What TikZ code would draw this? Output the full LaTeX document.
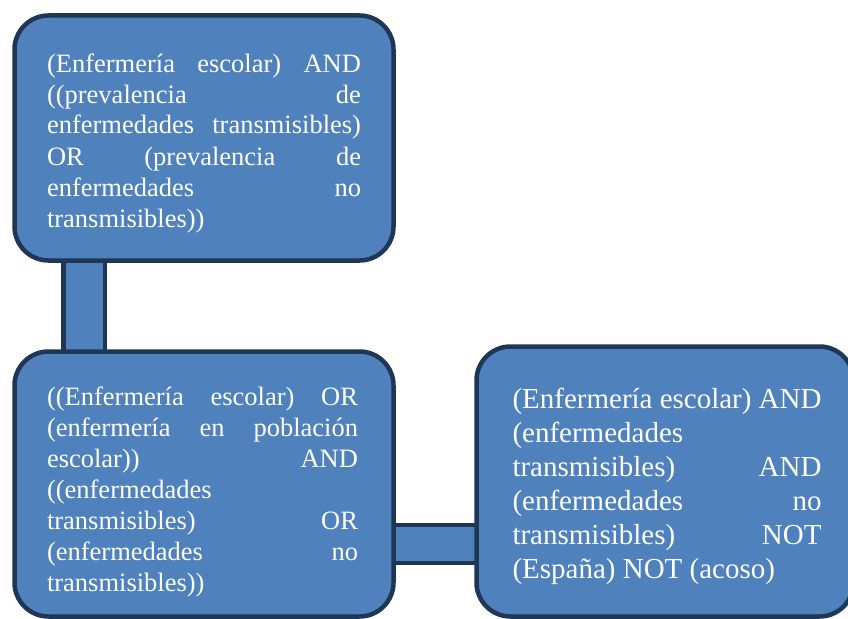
\documentclass[tikz,border=0pt]{standalone}
\usepackage{fontspec}
\setmainfont{Liberation Serif}
\usetikzlibrary{backgrounds}
\definecolor{boxfill}{HTML}{4F81BD}
\definecolor{boxline}{HTML}{1F3655}
\newcommand\jl[1]{\hbox to\hsize{#1}}
\tikzset{
  sabox/.style={draw=boxline, fill=boxfill, line width=4.5pt, rounded corners=34pt,
    rectangle, inner sep=0pt, outer sep=0pt, anchor=north west},
  satext/.style={text=white, inner sep=0pt, outer sep=0pt, anchor=base west},
  sabar/.style={draw=boxline, line width=4.5pt, double=boxfill},
}
\begin{document}
\begin{tikzpicture}[x=1pt,y=-1pt]
\useasboundingbox (0,0) rectangle (848,618);
\node[sabox, minimum width=379pt, minimum height=245pt] (b1) at (14.5,15.5) {};
\node[sabox, minimum width=379pt, minimum height=265pt] (b2) at (14.5,351.5) {};
\node[sabox, minimum width=377pt, minimum height=270pt] (b3) at (476.5,346.5) {};
\coordinate (vbar) at (84,0);
\coordinate (hbar) at (0,544);
\begin{scope}[on background layer]
\draw[sabar, double distance=37pt] (b1.south -| vbar) -- (b2.north -| vbar);
\draw[sabar, double distance=33.5pt] (b2.east |- hbar) -- (b3.west |- hbar);
\end{scope}
\node[satext] (t1) at (47,72) {\fontsize{26.5}{31}\selectfont\vtop{\hsize=314pt
\jl{(Enfermería\hfill escolar)\hfill AND}
\jl{((prevalencia\hfill de}
\jl{enfermedades\hfill transmisibles)}
\jl{OR\hfill (prevalencia\hfill de}
\jl{enfermedades\hfill no}
\jl{transmisibles))\hfill}}};
\node[satext] (t2) at (47,405) {\fontsize{26.5}{31}\selectfont\vtop{\hsize=311pt
\jl{((Enfermería\hfill escolar)\hfill OR}
\jl{(enfermería\hfill en\hfill población}
\jl{escolar))\hfill AND}
\jl{((enfermedades\hfill}
\jl{transmisibles)\hfill OR}
\jl{(enfermedades\hfill no}
\jl{transmisibles))\hfill}}};
\node[satext] (t3) at (512.5,408) {\fontsize{29}{34}\selectfont\vtop{\hsize=309pt
\jl{(Enfermería\hfill escolar)\hfill AND}
\jl{(enfermedades\hfill}
\jl{transmisibles)\hfill AND}
\jl{(enfermedades\hfill no}
\jl{transmisibles)\hfill NOT}
\jl{(España) NOT (acoso)\hfill}}};
\end{tikzpicture}
\end{document}
